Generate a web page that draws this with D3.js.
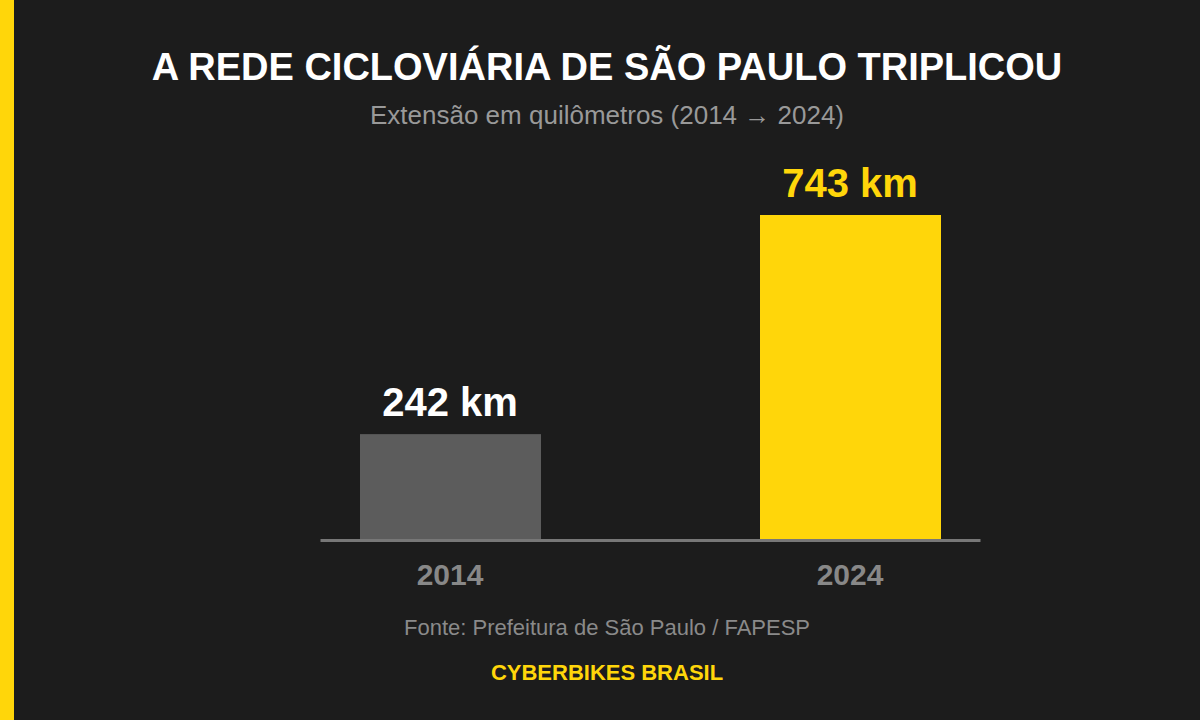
<!DOCTYPE html>
<html lang="pt-BR">

<head>
    <meta charset="UTF-8">
    <script src="https://d3js.org/d3.v7.min.js"></script>
    <title>Rede cicloviária de São Paulo</title>
    <style>
        html, body { margin: 0; padding: 0; background: #1c1c1c; }
        svg { display: block; font-family: "Liberation Sans", Arial, sans-serif; }
    </style>
</head>

<body>
    <div id="chart"></div>
    <script>
        // Data
        const years = ["2014", "2024"];
        const kms = [242, 743];
        const barColors = ["#5c5c5c", "#ffd60a"];
        const labelColors = ["#ffffff", "#ffd60a"];

        // Dimensions
        const width = 1200;
        const height = 720;
        const centerX = 607;
        const baseY = 540;

        const svg = d3.select("#chart")
            .append("svg")
            .attr("width", width)
            .attr("height", height);

        // Background + side stripe
        svg.append("rect")
            .attr("width", width)
            .attr("height", height)
            .attr("fill", "#1c1c1c");

        svg.append("rect")
            .attr("width", 14)
            .attr("height", height)
            .attr("fill", "#ffd60a");

        // Title
        svg.append("text")
            .attr("x", centerX)
            .attr("y", 80)
            .attr("text-anchor", "middle")
            .attr("fill", "#ffffff")
            .attr("font-size", 38)
            .attr("font-weight", "bold")
            .text("A REDE CICLOVIÁRIA DE SÃO PAULO TRIPLICOU");

        svg.append("text")
            .attr("x", centerX)
            .attr("y", 124)
            .attr("text-anchor", "middle")
            .attr("fill", "#999999")
            .attr("font-size", 26)
            .text("Extensão em quilômetros (2014 → 2024)");

        // Scales
        const x = d3.scaleBand()
            .domain(years)
            .range([320, 980])
            .paddingInner(0.55)
            .paddingOuter(0.1);

        const y = d3.scaleLinear()
            .domain([0, d3.max(kms)])
            .range([baseY, 215]);

        const rows = years.map((yr, i) => ({ year: yr, km: kms[i], i }));

        // Bars
        svg.selectAll(".bar")
            .data(rows)
            .join("rect")
            .attr("class", "bar")
            .attr("x", d => x(d.year))
            .attr("y", d => y(d.km))
            .attr("width", x.bandwidth() + 1)
            .attr("height", d => y(0) - y(d.km))
            .attr("fill", d => barColors[d.i]);

        // Value labels
        svg.selectAll(".value")
            .data(rows)
            .join("text")
            .attr("class", "value")
            .attr("x", d => x(d.year) + x.bandwidth() / 2)
            .attr("y", d => y(d.km) - 18)
            .attr("text-anchor", "middle")
            .attr("fill", d => labelColors[d.i])
            .attr("font-size", 40)
            .attr("font-weight", "bold")
            .text(d => `${d.km} km`);

        // Baseline axis
        const axis = svg.append("g")
            .attr("transform", `translate(0, ${baseY})`)
            .call(d3.axisBottom(x).tickSize(0).tickPadding(24));

        axis.select(".domain")
            .attr("stroke", "#777777")
            .attr("stroke-width", 3);

        axis.selectAll("text")
            .attr("fill", "#888888")
            .attr("font-size", 30)
            .attr("font-weight", "bold")
            .attr("font-family", "Liberation Sans, Arial, sans-serif");

        // Footer
        svg.append("text")
            .attr("x", centerX)
            .attr("y", 635)
            .attr("text-anchor", "middle")
            .attr("fill", "#8a8a8a")
            .attr("font-size", 22)
            .text("Fonte: Prefeitura de São Paulo / FAPESP");

        svg.append("text")
            .attr("x", centerX)
            .attr("y", 680)
            .attr("text-anchor", "middle")
            .attr("fill", "#ffd60a")
            .attr("font-size", 22)
            .attr("font-weight", "bold")
            .text("CYBERBIKES BRASIL");
    </script>
</body>

</html>
